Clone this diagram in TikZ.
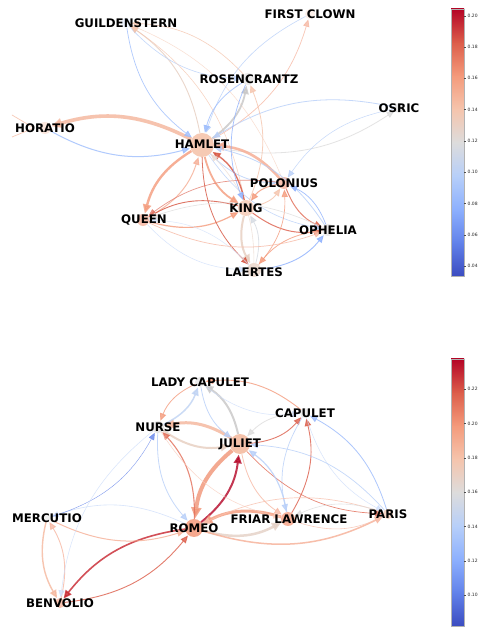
\documentclass[tikz,border=0pt]{standalone}
\usepackage{fontspec}
\setmainfont{DejaVu Sans}
\usetikzlibrary{arrows.meta}
\definecolor{c0}{HTML}{3B4CC0}
\definecolor{c1}{HTML}{6282EA}
\definecolor{c2}{HTML}{8DB0FE}
\definecolor{c3}{HTML}{B7CFF9}
\definecolor{c4}{HTML}{DDDCDC}
\definecolor{c5}{HTML}{F5C4AC}
\definecolor{c6}{HTML}{F49A7B}
\definecolor{c7}{HTML}{DC5D4A}
\definecolor{c8}{HTML}{B40426}
\definecolor{sal}{HTML}{F4B49A}
\definecolor{tan}{HTML}{E6CDBF}
\definecolor{red1}{HTML}{D6533F}
\definecolor{red2}{HTML}{C7242E}
\definecolor{blu}{HTML}{9DBDFD}
\tikzset{
  nd/.style={circle, inner sep=0pt, minimum size=#1, draw=none},
  lbl/.style={font=\fontsize{11.8}{12}\selectfont\bfseries, inner sep=0pt},
  E/.style={-{Triangle[length=6.5pt 1.1, width=5.5pt 1.1]}, bend right=22, opacity=0.8, shorten >=0.5pt},
  tk/.style={font=\fontsize{4.5}{5}\selectfont, anchor=west, inner sep=0pt, text=black!85},
  cbar/.style={draw=gray!60, line width=0.5pt}
}
\begin{document}
\begin{tikzpicture}[x=1pt,y=1pt]
\useasboundingbox (0,0) rectangle (478,627);
\fill[white] (0,0) rectangle (478,627);
% ---------------- Hamlet panel: node circles
\node[nd=24pt, fill=c5!90!white] (ham) at (202,482) {};
\node[nd=16pt, fill=c5!75!white] (king) at (246,419) {};
\node[nd=12pt, fill=c6!60!white] (pol) at (284,444) {};
\node[nd=12pt, fill=c6!60!white] (que) at (143,407) {};
\node[nd=12pt, fill=c4!60!white] (oph) at (328,397) {};
\node[nd=14pt, fill=tan!70!white] (lae) at (254,357) {};
\node[nd=12pt, fill=c5!40!white] (hor) at (45,499) {};
\node[nd=10pt, fill=c3!25!white] (gui) at (126,604) {};
\node[nd=10pt, fill=c5!25!white] (fc) at (310,613) {};
\node[nd=12pt, fill=c4!60!white] (ros) at (248,548) {};
\node[nd=10pt, fill=c4!70!white] (osr) at (399,519) {};
\coordinate (hx1) at (12,512);
\coordinate (hx2) at (12,490);
\coordinate (hx0) at (34,499);
% edges
\draw[sal, line width=0.7pt, opacity=0.7] (hx1) -- (hx0);
\draw[sal, line width=0.7pt, opacity=0.7] (hx2) -- (hx0);
\draw[E, sal, line width=3.6pt] (ham) to (hor);
\draw[E, blu, line width=1pt] (hor) to (ham);
\draw[E, blu, line width=0.7pt] (gui) to (ham);
\draw[E, tan, line width=0.9pt] (ham) to (gui);
\draw[E, c3, line width=0.6pt] (gui) to (ros);
\draw[E, c5, line width=0.6pt] (ros) to (gui);
\draw[E, c5!70!white, line width=0.5pt] (pol) to (gui);
\draw[E, c5, line width=0.5pt] (king) to (gui);
\draw[E, c3, line width=0.6pt] (fc) to (ham);
\draw[E, c6!70!white, line width=0.7pt] (ham) to (fc);
\draw[E, c4!90!black, line width=1.8pt] (ham) to (ros);
\draw[E, blu, line width=0.8pt] (ros) to (ham);
\draw[E, c3, line width=0.8pt] (osr) to (ham);
\draw[E, c4, line width=0.8pt] (ham) to (osr);
\draw[E, c3, line width=0.5pt] (osr) to (pol);
\draw[E, c6!85!white, line width=2.6pt] (pol) to (ham);
\draw[E, c3, line width=0.8pt] (ham) to (pol);
\draw[E, red1, line width=1.4pt] (king) to (ham);
\draw[E, c6, line width=1.8pt] (ham) to (king);
\draw[E, c6, line width=2.4pt] (ham) to (que);
\draw[E, c6!80!white, line width=1pt] (que) to (ham);
\draw[E, red1, line width=0.9pt] (king) to (que);
\draw[E, c6, line width=1.2pt] (que) to (king);
\draw[E, c7!80!white, line width=0.7pt] (pol) to (que);
\draw[E, c7, line width=1pt] (king) to (oph);
\draw[E, c7!75!c6, line width=1pt] (pol) to (oph);
\draw[E, c3, line width=0.8pt] (oph) to (ham);
\draw[E, c3, line width=0.6pt] (ham) to (oph);
\draw[E, c2, line width=0.7pt] (oph) to (pol);
\draw[E, tan, line width=2pt] (king) to (lae);
\draw[E, c4!80!c3, line width=0.8pt] (lae) to (king);
\draw[E, red1, line width=0.8pt] (ham) to (lae);
\draw[E, tan!70!white, line width=0.6pt] (lae) to (ham);
\draw[E, c6, line width=0.7pt] (lae) to (pol);
\draw[E, c2, line width=0.9pt] (lae) to (oph);
\draw[E, c6, line width=0.8pt] (oph) to (lae);
\draw[E, c3!70!white, line width=0.5pt] (que) to (lae);
\draw[E, c3!60!white, line width=0.5pt] (lae) to (que);
\draw[E, c6, line width=1pt] (pol) to (king);
\draw[E, c5, line width=0.9pt] (king) to (pol);
\draw[E, c5, line width=0.8pt] (king) to (ros);
\draw[E, c2, line width=0.7pt] (ros) to (king);
\draw[E, c6!70!white, line width=0.7pt] (que) to (oph);
\draw[E, c4, line width=0.6pt] (oph) to (que);
% labels
\node[lbl] (gL) at (126,604) {GUILDENSTERN};
\node[lbl] (fL) at (310,613) {FIRST CLOWN};
\node[lbl] (rL) at (249,548) {ROSENCRANTZ};
\node[lbl] (oL) at (399,519) {OSRIC};
\node[lbl] (hoL) at (45,499) {HORATIO};
\node[lbl] (haL) at (202,483) {HAMLET};
\node[lbl] (pL) at (284,444) {POLONIUS};
\node[lbl] (kL) at (246,419) {KING};
\node[lbl] (qL) at (144,407) {QUEEN};
\node[lbl] (opL) at (328,397) {OPHELIA};
\node[lbl] (lL) at (254,355) {LAERTES};
% colorbar 1
\foreach \a/\b [count=\i from 0] in {c0/c1,c1/c2,c2/c3,c3/c4,c4/c5,c5/c6,c6/c7,c7/c8}
  \shade[bottom color=\a, top color=\b] (451,{351+\i*33.375-0.2}) rectangle (464,{351+(\i+1)*33.375+0.2});
\draw[cbar] (451,351) rectangle (464,618);
\foreach \v/\y [count=\k] in {0.20/611.3,0.18/580.0,0.16/548.7,0.14/517.4,0.12/486.2,0.10/454.9,0.08/423.6,0.06/392.3,0.04/361.0}{
  \draw[line width=0.3pt, black!70] (464,\y) -- (466,\y);
  \node[tk] (ta\k) at (467.5,\y) {\v};
}
% ---------------- Romeo panel: node circles
\node[nd=18pt, fill=c6!85!white] (rom) at (194,99) {};
\node[nd=20pt, fill=c5!95!c6] (jul) at (240,183) {};
\node[nd=14pt, fill=c6!75!white] (fl) at (288,108) {};
\node[nd=12pt, fill=c4!70!white] (nur) at (158,200) {};
\node[nd=10pt, fill=c5!70!white] (par) at (388,113) {};
\node[nd=10pt, fill=c4!60!white] (lc) at (200,245) {};
\node[nd=10pt, fill=c4!60!white] (cap) at (305,214) {};
\node[nd=8pt, fill=c4!40!white] (mer) at (47,109) {};
\node[nd=10pt, fill=c6!60!white] (ben) at (60,24) {};
% edges
\draw[E, c6!90!c7, line width=4pt] (jul) to (rom);
\draw[E, c8, line width=2pt] (rom) to (jul);
\draw[E, sal, line width=3pt] (jul) to (nur);
\draw[E, tan, line width=2pt] (nur) to (jul);
\draw[E, c6, line width=0.8pt] (lc) to (nur);
\draw[E, c3!80!c4, line width=1.5pt] (nur) to (lc);
\draw[E, c4!90!black, line width=2pt] (jul) to (lc);
\draw[E, c3, line width=0.8pt] (lc) to (jul);
\draw[E, c6, line width=0.9pt] (cap) to (lc);
\draw[E, c3!70!white, line width=0.5pt] (lc) to (cap);
\draw[E, c7, line width=0.9pt] (jul) to (cap);
\draw[E, c4, line width=0.8pt] (cap) to (jul);
\draw[E, c7, line width=0.9pt] (fl) to (cap);
\draw[E, c3, line width=0.7pt] (cap) to (fl);
\draw[E, c2!70!c3, line width=0.8pt] (par) to (cap);
\draw[E, c3!70!white, line width=0.5pt] (cap) to (par);
\draw[E, c7!80!c6, line width=0.7pt] (jul) to (par);
\draw[E, c3, line width=0.7pt] (par) to (jul);
\draw[E, c6!70!white, line width=0.8pt] (jul) to (fl);
\draw[E, c3, line width=1.2pt] (fl) to (jul);
\draw[E, c6, line width=3pt] (fl) to (rom);
\draw[E, tan!80!c4, line width=2.5pt] (rom) to (fl);
\draw[E, c6!80!white, line width=1.5pt] (rom) to (par);
\draw[E, c6!60!white, line width=0.7pt] (par) to (rom);
\draw[E, c3, line width=0.8pt] (nur) to (rom);
\draw[E, c7!70!c6, line width=1.1pt] (rom) to (nur);
\draw[E, red2, line width=1.6pt] (rom) to (ben);
\draw[E, c7, line width=0.9pt] (ben) to (rom);
\draw[E, c5!70!c6, line width=1.4pt] (mer) to (ben);
\draw[E, c6!70!white, line width=0.9pt] (ben) to (mer);
\draw[E, c6!80!white, line width=1pt] (mer) to (rom);
\draw[E, c3!70!white, line width=0.6pt] (rom) to (mer);
\draw[E, c1, line width=0.4pt] (mer) to (nur);
\draw[E, c3!70!white, line width=0.5pt] (nur) to (ben);
\draw[E, c6!60!white, line width=0.6pt] (fl) to (par);
\draw[E, c4, line width=0.6pt] (par) to (fl);
\draw[E, c6!50!white, line width=0.5pt] (nur) to (fl);
% labels
\node[lbl] (lcL) at (200,245) {LADY CAPULET};
\node[lbl] (cL) at (305,214) {CAPULET};
\node[lbl] (nL) at (158,200) {NURSE};
\node[lbl] (jL) at (240,183) {JULIET};
\node[lbl] (mL) at (47,109) {MERCUTIO};
\node[lbl] (roL) at (194,99) {ROMEO};
\node[lbl] (fL2) at (289,108) {FRIAR LAWRENCE};
\node[lbl] (paL) at (388,113) {PARIS};
\node[lbl] (bL) at (60,24) {BENVOLIO};
% colorbar 2
\foreach \a/\b [count=\i from 0] in {c0/c1,c1/c2,c2/c3,c3/c4,c4/c5,c5/c6,c6/c7,c7/c8}
  \shade[bottom color=\a, top color=\b] (451,{1+\i*33.375-0.2}) rectangle (464,{1+(\i+1)*33.375+0.2});
\draw[cbar] (451,1) rectangle (464,268);
\foreach \v/\y [count=\k] in {0.22/237.7,0.20/203.4,0.18/169.1,0.16/134.8,0.14/100.5,0.12/66.2,0.10/31.9}{
  \draw[line width=0.3pt, black!70] (464,\y) -- (466,\y);
  \node[tk] (tb\k) at (467.5,\y) {\v};
}
\end{tikzpicture}
\end{document}
